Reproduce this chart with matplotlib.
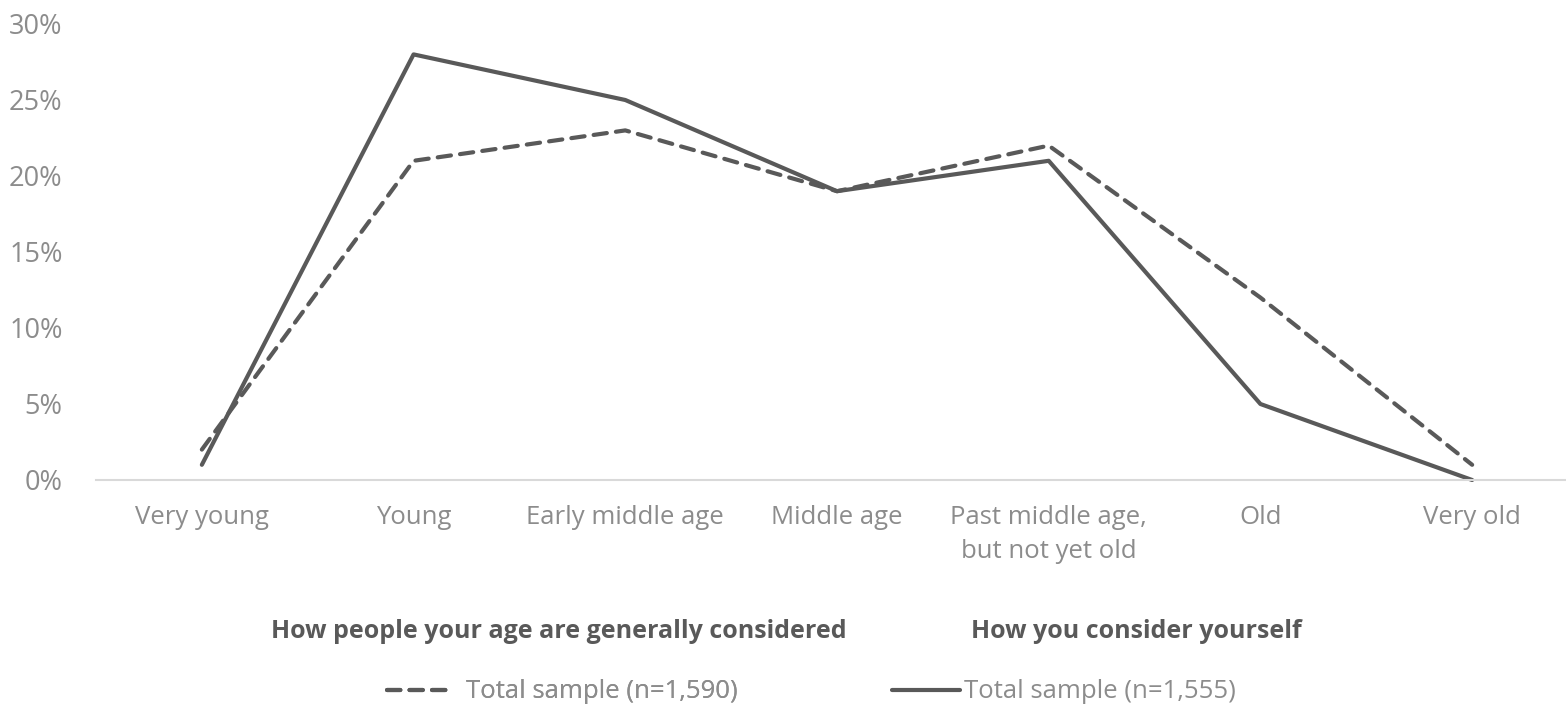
import matplotlib
matplotlib.use("Agg")
import matplotlib.pyplot as plt
from matplotlib.ticker import FuncFormatter

categories = ["Very young", "Young", "Early middle age", "Middle age",
              "Past middle age,\nbut not yet old", "Old", "Very old"]
others_pct = [2, 21, 23, 19, 22, 12, 1]
self_pct = [1, 28, 25, 19, 21, 5, 0]
header_others = "How people your age are generally considered"
header_self = "How you consider yourself"
label_others = "Total sample (n=1,590)"
label_self = "Total sample (n=1,555)"
yticks = [0, 5, 10, 15, 20, 25, 30]

plt.rcParams['font.family'] = ['Open Sans', 'DejaVu Sans']
LINE = '#595959'
TXT = '#8c8c8c'

W, H = 1566, 708
fig = plt.figure(figsize=(W / 100, H / 100), dpi=100)
ax = fig.add_axes([96 / W, 1 - 480 / H, (1578 - 96) / W, (480 - 24) / H])

x = list(range(len(categories)))
l1, = ax.plot(x, others_pct, color=LINE, lw=3.0, dashes=(3.2, 2.2),
              dash_capstyle='round', solid_capstyle='round', label=label_others)
l2, = ax.plot(x, self_pct, color=LINE, lw=3.0, solid_capstyle='round',
              solid_joinstyle='round', label=label_self)

ax.set_xlim(-0.5, 6.5)
ax.set_ylim(0, 30)
ax.set_yticks(yticks)
ax.yaxis.set_major_formatter(FuncFormatter(lambda v, p: f"{int(v)}%"))
ax.set_xticks(x)
ax.set_xticklabels(categories, linespacing=1.5)
ax.tick_params(axis='both', length=0, colors=TXT)
ax.tick_params(axis='y', pad=24, labelsize=19.5)
ax.tick_params(axis='x', pad=18, labelsize=18.5)
for s in ['top', 'right', 'left']:
    ax.spines[s].set_visible(False)
ax.spines['bottom'].set_color('#d9d9d9')
ax.spines['bottom'].set_linewidth(1.5)
for ln in (l1, l2):
    ln.set_clip_on(False)

fig.text(559 / W, 1 - 632 / H, header_others, ha='center', va='center',
         fontsize=18, fontweight='bold', color=LINE)
fig.text(1136 / W, 1 - 632 / H, header_self, ha='center', va='center',
         fontsize=18, fontweight='bold', color=LINE)

leg1 = fig.legend(handles=[l1], loc='center left',
                  bbox_to_anchor=(387 / W, 1 - 692 / H),
                  frameon=False, fontsize=18.5, labelcolor=TXT,
                  handlelength=2.45, handletextpad=0.62,
                  borderaxespad=0, borderpad=0)
fig.add_artist(leg1)
fig.legend(handles=[l2], loc='center left',
           bbox_to_anchor=(892 / W, 1 - 692 / H),
           frameon=False, fontsize=18.5, labelcolor=TXT,
           handlelength=2.65, handletextpad=0.16,
           borderaxespad=0, borderpad=0)

fig.savefig("out.png", dpi=100)
